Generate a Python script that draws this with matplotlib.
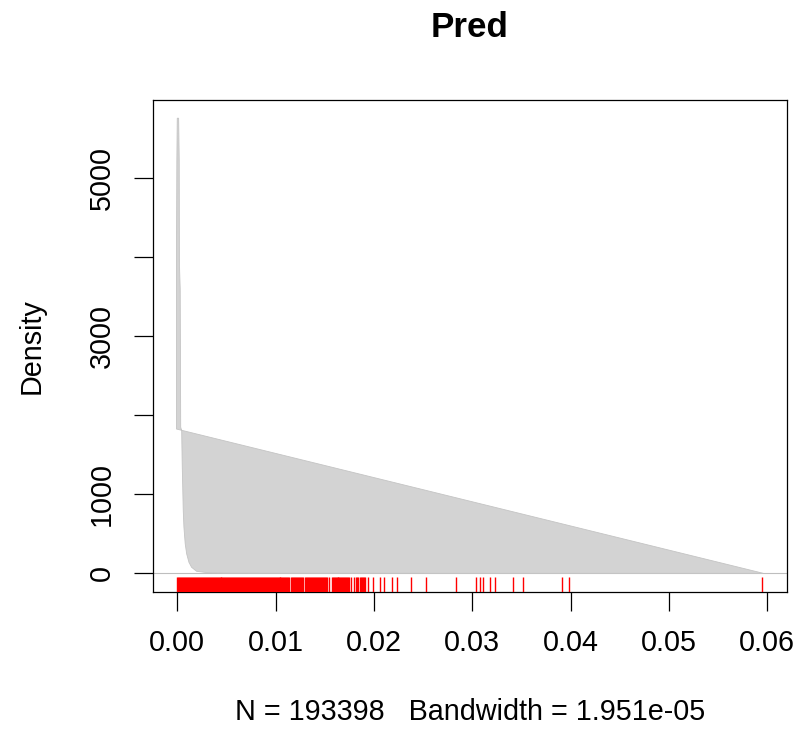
import matplotlib.pyplot as plt

plt.rcParams['font.family'] = ['Liberation Sans', 'DejaVu Sans']

# kernel density estimate of Pred (polygon vertices in drawing order)
dens_x = [-0.00008, -0.00008, -0.00004, 0.00000, 0.00014, 0.00020, 0.00022,
          0.00030, 0.00035, 0.00045, 0.00051, 0.00055, 0.00061, 0.00068,
          0.00081, 0.00096, 0.00119, 0.00146, 0.00197, 0.0030, 0.0048,
          0.0100, 0.0200, 0.0300, 0.0400, 0.0500, 0.0596]
dens_y = [1826, 3920, 5220, 5760, 5760, 5220, 3920,
          3600, 1850, 1805, 1340, 1130, 793, 582,
          372, 245, 139, 76, 25, 9, 2,
          0.5, 0.2, 0.1, 0.1, 0.05, 0]

# observed values shown as a rug
rug_x = [
    0.0000, 0.0001, 0.0002, 0.0003, 0.0004, 0.0005, 0.0006, 0.0007, 0.0008, 0.0009,
    0.0010, 0.0011, 0.0012, 0.0013, 0.0014, 0.0015, 0.0016, 0.0017, 0.0018, 0.0019,
    0.0020, 0.0021, 0.0022, 0.0023, 0.0024, 0.0025, 0.0026, 0.0027, 0.0028, 0.0029,
    0.0030, 0.0031, 0.0032, 0.0033, 0.0034, 0.0035, 0.0036, 0.0037, 0.0038, 0.0039,
    0.0040, 0.0041, 0.0042, 0.0043, 0.0044, 0.0045, 0.0046, 0.0047, 0.0048, 0.0049,
    0.0050, 0.0051, 0.0052, 0.0053, 0.0054, 0.0055, 0.0056, 0.0057, 0.0058, 0.0059,
    0.0060, 0.0061, 0.0062, 0.0063, 0.0064, 0.0065, 0.0066, 0.0067, 0.0068, 0.0069,
    0.0070, 0.0071, 0.0072, 0.0073, 0.0074, 0.0075, 0.0076, 0.0077, 0.0078, 0.0079,
    0.0080, 0.0081, 0.0082, 0.0083, 0.0084, 0.0085, 0.0086, 0.0087, 0.0088, 0.0089,
    0.0090, 0.0091, 0.0092, 0.0093, 0.0094, 0.0095, 0.0096, 0.0097, 0.0098, 0.0099,
    0.0100, 0.0101, 0.0102, 0.0103, 0.0104, 0.0105, 0.0106, 0.0107, 0.0108, 0.0109,
    0.0110, 0.0111, 0.0112, 0.0113, 0.0114,
    0.0116, 0.0117, 0.0118, 0.0119, 0.0120, 0.0121, 0.0122, 0.0123, 0.0124, 0.0125,
    0.0126, 0.0127, 0.0128,
    0.0130, 0.0131, 0.0132, 0.0133, 0.0134, 0.0135, 0.0136, 0.0137, 0.0138, 0.0139,
    0.0140, 0.0141, 0.0142, 0.0143, 0.0144, 0.0145, 0.0146, 0.0147, 0.0148, 0.0149,
    0.0150, 0.0151, 0.0152,
    0.0154,
    0.0157, 0.0158, 0.0159, 0.0160, 0.0161, 0.0162, 0.0163, 0.0164, 0.0165, 0.0166,
    0.0167, 0.0168, 0.0169, 0.0170, 0.0171, 0.0172, 0.0173, 0.0174, 0.0175,
    0.0177, 0.0180, 0.0182, 0.0183, 0.0184, 0.0186, 0.0187, 0.0188, 0.0189, 0.0190,
    0.0191, 0.0194, 0.0199, 0.0206, 0.0210, 0.0218, 0.0224, 0.0238, 0.0253, 0.0284,
    0.0304, 0.0308, 0.0311, 0.0318, 0.0323, 0.0341, 0.0352, 0.0391, 0.0398, 0.0595,
]

x_ticks = [0.00, 0.01, 0.02, 0.03, 0.04, 0.05, 0.06]
y_ticks = [0, 1000, 2000, 3000, 4000, 5000]
y_tick_labels = ['0', '1000', '', '3000', '', '5000']

n_obs = 193398
bandwidth = '1.951e-05'

fig = plt.figure(figsize=(8.01, 7.35), dpi=100)
ax = fig.add_axes([153 / 801, (735 - 591.5) / 735, (786.7 - 153) / 801, (591.5 - 100) / 735])

# R-style 4% padding around the data range
x_lo, x_hi = min(dens_x), max(dens_x)
y_lo, y_hi = 0, max(dens_y)
ax.set_xlim(x_lo - 0.04 * (x_hi - x_lo), x_hi + 0.04 * (x_hi - x_lo))
ax.set_ylim(y_lo - 0.04 * (y_hi - y_lo), y_hi + 0.04 * (y_hi - y_lo))

ax.axhline(0, color='#BEBEBE', lw=0.8, zorder=1)
ax.fill(dens_x, dens_y, facecolor='#D3D3D3', edgecolor='#C4C4C4', lw=0.6, zorder=2)
ax.vlines(rug_x, 0, 0.03, transform=ax.get_xaxis_transform(), colors='red', lw=1.0, zorder=3)

ax.set_xticks(x_ticks)
ax.set_xticklabels(['%.2f' % t for t in x_ticks])
ax.set_yticks(y_ticks)
ax.set_yticklabels(y_tick_labels, rotation=90, va='center')
ax.tick_params(axis='both', direction='out', length=13.7, width=0.9, labelsize=20.7, colors='black')
ax.tick_params(axis='x', pad=13)
ax.tick_params(axis='y', pad=13)
for s in ax.spines.values():
    s.set_linewidth(0.9)
    s.set_color('black')

fig.text(470 / 801, 1 - 27.5 / 735, 'Pred', ha='center', va='center', fontsize=25.2, fontweight='bold')
fig.text(470 / 801, 1 - 712 / 735, 'N = %d   Bandwidth = %s' % (n_obs, bandwidth),
         ha='center', va='center', fontsize=20.7)
fig.text(32 / 801, 1 - 346 / 735, 'Density', ha='center', va='center', rotation=90, fontsize=20.7)

fig.savefig('out.png', dpi=100)
